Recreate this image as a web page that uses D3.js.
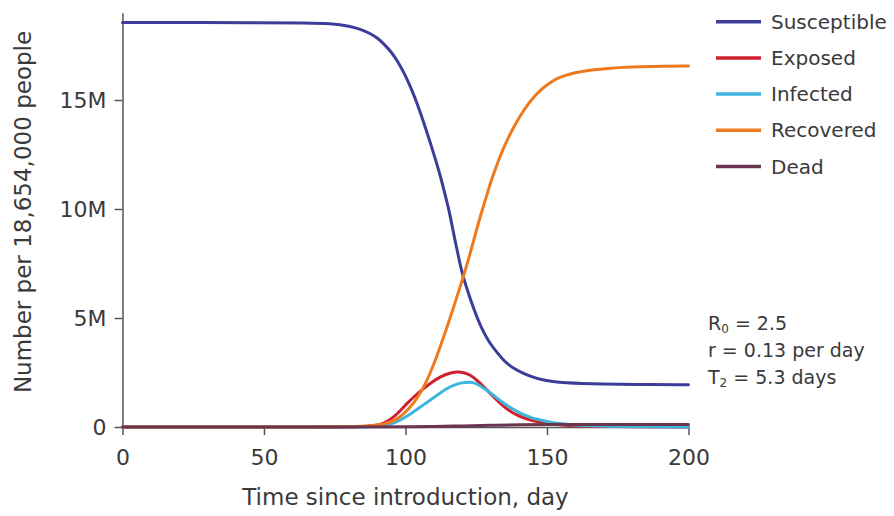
<!DOCTYPE html>
<html>
<head>
<meta charset="utf-8">
<script src="https://cdn.jsdelivr.net/npm/d3@7"></script>
<style>
  html, body { margin: 0; padding: 0; background: #fff; }
  svg { display: block; }
  text { font-family: "DejaVu Sans", sans-serif; fill: #3a3a3a; }
</style>
</head>
<body>
<svg id="chart" width="894" height="516"></svg>
<script>
// SEIR model output for a population of 18,654,000 (values in millions of people)
const xTicks = [0, 50, 100, 150, 200];
const yTicks = [0, 5, 10, 15];
const yTickLabels = ["0", "5M", "10M", "15M"];

const susceptible = [
  [0, 18.55], [50, 18.55], [65, 18.54], [73.5, 18.51], [80.5, 18.39], [84, 18.25],
  [87.6, 18.05], [90, 17.85], [92.2, 17.6], [95, 17.2], [97.1, 16.8], [99.5, 16.25],
  [101.8, 15.6], [103.5, 15.05], [105.3, 14.4], [107, 13.75], [108.8, 13.03],
  [110.6, 12.27], [112.4, 11.48], [113.8, 10.75], [115.3, 10.0], [116.5, 9.2],
  [118, 8.25], [119.4, 7.4], [120.4, 6.88], [121.7, 6.35], [123, 5.83], [125.3, 5.0],
  [127.7, 4.31], [130, 3.8], [132.5, 3.4], [135, 3.0], [138, 2.7], [141, 2.5],
  [144, 2.33], [147.5, 2.18], [152, 2.08], [157, 2.03], [162, 2.0], [169, 1.97],
  [180, 1.95], [200, 1.94]
];

const exposed = [
  [0, 0], [80, 0], [85, 0.02], [88, 0.05], [91.2, 0.1], [93.5, 0.25], [95.9, 0.47],
  [98.2, 0.75], [100.6, 1.09], [103.5, 1.45], [106.5, 1.78], [109.5, 2.07],
  [112.4, 2.31], [115.3, 2.47], [118.3, 2.54], [120.5, 2.5], [123, 2.39],
  [125.5, 2.12], [128.9, 1.68], [131.8, 1.3], [134.7, 0.93], [137.6, 0.67],
  [140.6, 0.47], [143.5, 0.34], [146.5, 0.24], [152.4, 0.12], [160, 0.05],
  [170, 0.02], [200, 0]
];

const infected = [
  [0, 0], [82, 0], [88, 0.02], [93.5, 0.07], [97.1, 0.24], [100, 0.45], [102.9, 0.7],
  [105.8, 0.97], [108.8, 1.24], [111.8, 1.52], [114.7, 1.78], [117.5, 1.95],
  [120, 2.03], [122.5, 2.07], [124.5, 2.03], [126.5, 1.88], [128.9, 1.68],
  [131.8, 1.38], [134.7, 1.09], [137.6, 0.84], [140.6, 0.63], [143.5, 0.47],
  [146.5, 0.35], [150, 0.25], [153.6, 0.17], [157, 0.12], [160.7, 0.08],
  [170, 0.03], [185, 0.01], [200, 0]
];

const recovered = [
  [0, 0], [78, 0], [85, 0.03], [90, 0.08], [93.5, 0.17], [96, 0.3], [98.2, 0.47],
  [100.5, 0.75], [102.9, 1.09], [104.7, 1.45], [106.5, 1.85], [108.5, 2.4],
  [110.6, 3.07], [113, 3.95], [115.9, 5.06], [118, 5.9], [120.4, 6.88],
  [122.5, 7.8], [124.8, 8.9], [126.5, 9.7], [128.3, 10.45], [130, 11.2],
  [133, 12.3], [135.9, 13.17], [138.8, 13.9], [141.8, 14.54], [144.7, 15.05],
  [147.7, 15.46], [150.6, 15.75], [153.6, 16.0], [157.5, 16.18], [161.8, 16.3],
  [166.5, 16.39], [171.3, 16.45], [177, 16.5], [183, 16.53], [191, 16.55], [200, 16.56]
];

const dead = [
  [0, 0], [90, 0], [100, 0.005], [110, 0.02], [120, 0.05], [130, 0.08],
  [140, 0.1], [150, 0.11], [165, 0.12], [200, 0.12]
];

const seriesNames = ["Susceptible", "Exposed", "Infected", "Recovered", "Dead"];
const seriesData = [susceptible, exposed, infected, recovered, dead];
const seriesColors = ["#3b3d99", "#d0202e", "#3db5dc", "#ef7a1e", "#6b3550"];

const notes = [
  { main: "R", sub: "0", rest: " = 2.5" },
  { main: "r = 0.13 per day", sub: "", rest: "" },
  { main: "T", sub: "2", rest: " = 5.3 days" }
];

const svg = d3.select("#chart");
svg.append("rect").attr("width", 894).attr("height", 516).attr("fill", "#fff");

const x = d3.scaleLinear().domain([0, 200]).range([122.5, 688.5]);
const y = d3.scaleLinear().domain([0, 19]).range([427, 12.8]);

// axes
const xAxis = d3.axisBottom(x).tickValues(xTicks).tickSize(8).tickSizeOuter(0).tickPadding(14);
const yAxis = d3.axisLeft(y).tickValues(yTicks).tickSize(8).tickSizeOuter(0).tickPadding(8)
  .tickFormat((d, i) => yTickLabels[i]);

const gx = svg.append("g").attr("transform", `translate(0,${y(0)})`).call(xAxis);
const gy = svg.append("g").attr("transform", `translate(${x(0)},0)`).call(yAxis);
[gx, gy].forEach(g => {
  g.select(".domain").attr("stroke", "#555").attr("stroke-width", 1.5);
  g.selectAll(".tick line").attr("stroke", "#555").attr("stroke-width", 1.5);
  g.selectAll(".tick text").attr("font-size", 22).attr("fill", "#3a3a3a")
    .style("font-family", "'DejaVu Sans', sans-serif");
});

// series lines, smoothed through the sampled points
const line = d3.line()
  .x(d => x(d[0]))
  .y(d => y(d[1]))
  .curve(d3.curveBasis);

seriesData.forEach((data, i) => {
  svg.append("path")
    .datum(data)
    .attr("fill", "none")
    .attr("stroke", seriesColors[i])
    .attr("stroke-width", 3)
    .attr("stroke-linejoin", "round")
    .attr("stroke-linecap", "round")
    .attr("d", line);
});

// axis titles
svg.append("text")
  .attr("x", (x(0) + x(200)) / 2)
  .attr("y", 505)
  .attr("text-anchor", "middle")
  .attr("font-size", 23)
  .text("Time since introduction, day");

svg.append("text")
  .attr("transform", "translate(31,212) rotate(-90)")
  .attr("text-anchor", "middle")
  .attr("font-size", 23)
  .text("Number per 18,654,000 people");

// legend
const legend = svg.append("g");
seriesNames.forEach((name, i) => {
  const ly = 21.7 + i * 36.2;
  legend.append("line")
    .attr("x1", 716).attr("x2", 761)
    .attr("y1", ly).attr("y2", ly)
    .attr("stroke", seriesColors[i])
    .attr("stroke-width", 3.5);
  legend.append("text")
    .attr("x", 771)
    .attr("y", ly + 7)
    .attr("font-size", 20)
    .text(name);
});

// model parameters
notes.forEach((n, i) => {
  const t = svg.append("text")
    .attr("x", 708)
    .attr("y", 330 + i * 27)
    .attr("font-size", 19);
  t.append("tspan").text(n.main);
  if (n.sub) {
    t.append("tspan").attr("font-size", 12).attr("dy", 3).text(n.sub);
    t.append("tspan").attr("dy", -3).text(n.rest);
  }
});
</script>
</body>
</html>
